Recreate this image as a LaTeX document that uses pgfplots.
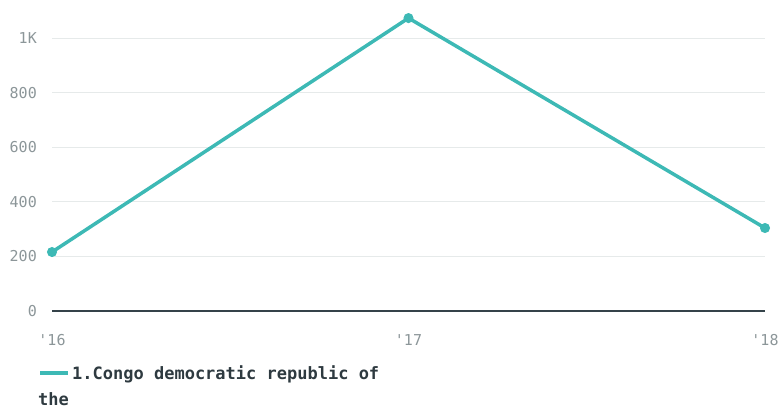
\documentclass[border=0pt]{standalone}
\usepackage{pgfplots}
\pgfplotsset{compat=1.18}
\usepackage{fontspec}
\setmainfont{DejaVu Sans Mono}
\definecolor{teal}{HTML}{3DB9B5}
\definecolor{tickgray}{HTML}{8C9699}
\definecolor{darkline}{HTML}{35434A}
\definecolor{gridgray}{HTML}{E6EAEA}
\definecolor{legtext}{HTML}{2E3A40}

\begin{document}
\begin{tikzpicture}
\useasboundingbox (0pt,0pt) rectangle (781pt,408pt);
\begin{axis}[
    at={(52pt,97pt)}, anchor=south west,
    scale only axis,
    width=713pt, height=300.3pt,
    xmin=0, xmax=2, ymin=0, ymax=1100,
    clip=false,
    axis line style={draw=none},
    tick style={draw=none},
    xtick={0,1,2},
    xticklabels={\textquotesingle16,\textquotesingle17,\textquotesingle18},
    ytick={200,400,600,800,1000},
    yticklabels={200,400,600,800,1K},
    extra y ticks={0},
    extra y tick labels={0},
    extra y tick style={grid style={draw=darkline, line width=2.5pt}},
    ymajorgrids,
    grid style={draw=gridgray, line width=1pt},
    major tick length=0pt,
    /pgf/number format/assume math mode=true,
    tick label style={font=\fontsize{15}{17}\selectfont, text=tickgray, inner sep=0pt},
    yticklabel style={anchor=east, xshift=-15pt},
    xticklabel style={anchor=north, yshift=-23pt},
    legend style={at={(0,0)}, anchor=north west, xshift=-14pt, yshift=-52pt,
        draw=none, fill=none, inner sep=0pt,
        font=\fontsize{17}{19}\bfseries\selectfont, text=legtext,
        /tikz/every even column/.append style={column sep=10pt}},
    legend image code/.code={\draw[line width=4pt] (0pt,0pt) -- (28pt,0pt);},
]
\addplot[color=teal, line width=3.5pt, mark=*, mark size=4.5pt,
    mark options={fill=teal, draw=teal, line width=1pt}]
    coordinates {(0,216) (1,1073) (2,304)};
\addlegendentry{1.Congo democratic republic of}
\end{axis}
\node[anchor=base west, inner sep=0pt, text=legtext,
    font=\fontsize{17}{19}\bfseries\selectfont] at (38pt,3pt) {the};
\end{tikzpicture}
\end{document}
